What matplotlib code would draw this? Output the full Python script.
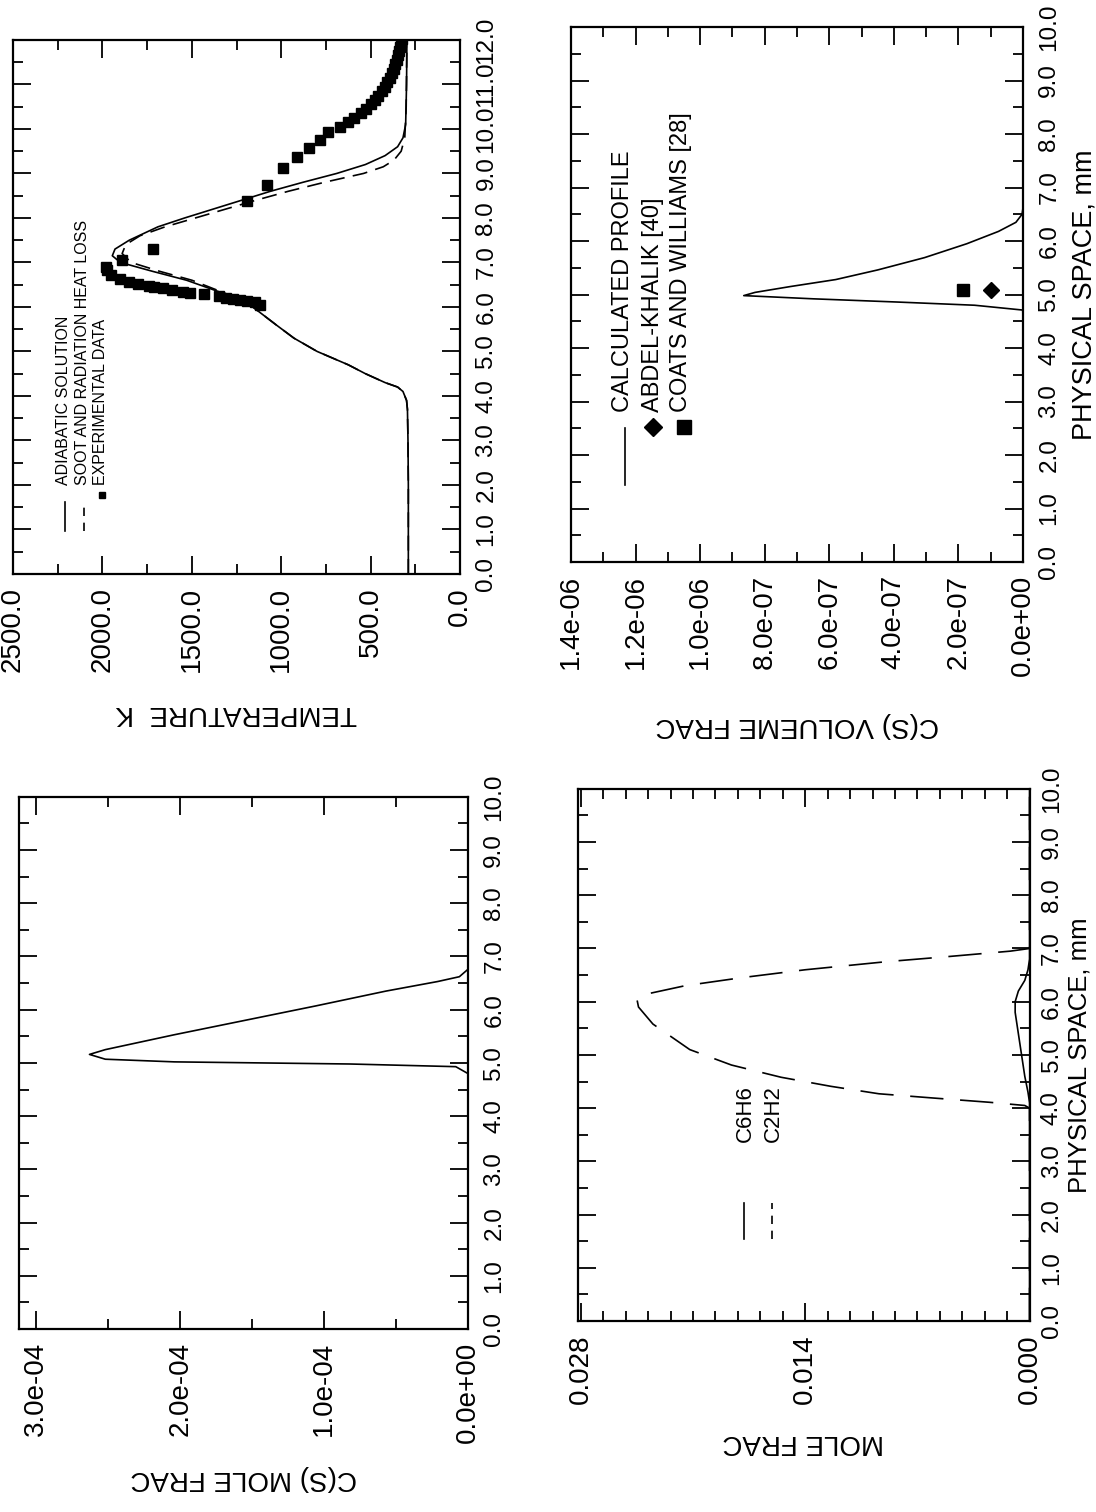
import matplotlib
matplotlib.use("Agg")
import matplotlib.pyplot as plt
from matplotlib.ticker import MultipleLocator, FormatStrFormatter

plt.rcParams['font.family'] = ['Liberation Sans', 'DejaVu Sans']

# ---- data (physical space in mm) ----
# temperature panel
adiabatic_x = [0.0, 1.0, 2.0, 3.0, 3.7, 3.9, 4.1, 4.2, 4.3, 4.5, 4.7, 5.0, 5.3, 5.6, 6.0, 6.3,
               6.6, 6.8, 7.0, 7.15, 7.3, 7.5, 7.8, 8.0, 8.2, 8.4, 8.6, 8.8, 9.0, 9.2, 9.4,
               9.6, 9.8, 10.1, 11.0, 12.0]
adiabatic_T = [290, 290, 290, 292, 295, 300, 320, 350, 420, 530, 626, 800, 930, 1030, 1160, 1320,
               1530, 1720, 1900, 1945, 1930, 1850, 1690, 1540, 1380, 1220, 1060, 880, 690, 530, 420,
               350, 320, 305, 300, 298]
soot_x = [0.0, 1.0, 2.0, 3.0, 3.7, 3.9, 4.1, 4.2, 4.3, 4.5, 4.7, 5.0, 5.3, 5.6, 6.0, 6.3,
          6.6, 6.8, 7.0, 7.2, 7.4, 7.6, 7.8, 8.0, 8.2, 8.4, 8.6, 8.8, 9.0, 9.15, 9.3, 9.5,
          9.8, 10.5, 12.0]
soot_T = [290, 290, 290, 292, 295, 300, 320, 350, 420, 530, 626, 800, 930, 1030, 1160, 1310,
          1500, 1680, 1840, 1890, 1870, 1790, 1650, 1480, 1310, 1140, 960, 760, 540, 430, 370, 330,
          310, 302, 298]
exp_x = [6.05, 6.10, 6.13, 6.16, 6.18, 6.21, 6.24, 6.28, 6.32, 6.34, 6.38, 6.42, 6.45, 6.48,
         6.52, 6.57, 6.62, 6.72, 6.83, 6.90, 7.05, 7.30, 8.38, 8.75, 9.12, 9.37, 9.57, 9.76,
         9.92, 10.05, 10.15, 10.25, 10.35, 10.45, 10.55, 10.65, 10.75, 10.85, 10.95, 11.05,
         11.15, 11.25, 11.35, 11.45, 11.55, 11.65, 11.75, 11.85, 11.95, 12.03]
exp_T = [1120, 1150, 1190, 1230, 1270, 1310, 1350, 1430, 1510, 1550, 1610, 1660, 1710, 1740,
         1800, 1850, 1900, 1950, 1975, 1980, 1890, 1720, 1190, 1080, 990, 915, 845, 785,
         740, 670, 630, 592, 555, 528, 500, 476, 457, 438, 421, 407,
         395, 384, 372, 362, 354, 347, 341, 336, 331, 328]

# soot volume fraction panel
vol_x = [0.0, 4.6, 4.71, 4.8, 4.86, 4.92, 4.98, 5.04, 5.15, 5.28, 5.46, 5.69, 5.95, 6.18,
         6.35, 6.5, 6.62, 10.0]
vol_frac = [0.0, 0.0, 0.01e-7, 1.5e-7, 3.9e-7, 6.5e-7, 8.65e-7, 8.3e-7, 7.2e-7, 5.8e-7,
            4.5e-7, 3.05e-7, 1.74e-7, 0.76e-7, 0.22e-7, 0.03e-7, 0.0, 0.0]
abdel_x = [5.09]
abdel_vol = [1.0e-7]
coats_x = [5.09]
coats_vol = [1.85e-7]

# soot mole fraction panel
cs_x = [0.0, 4.5, 4.8, 4.93, 4.98, 5.02, 5.07, 5.16, 5.25, 5.53, 5.8, 6.07, 6.35, 6.53,
        6.62, 6.76, 10.0]
cs_mole = [0.0, 0.0, 0.0, 0.085e-4, 0.82e-4, 2.04e-4, 2.52e-4, 2.63e-4, 2.52e-4, 2.04e-4,
           1.55e-4, 1.06e-4, 0.57e-4, 0.21e-4, 0.06e-4, 0.0, 0.0]

# C6H6 / C2H2 panel
c2h2_x = [0.0, 4.0, 4.05, 4.11, 4.19, 4.27, 4.41, 4.58, 4.81, 5.1, 5.58, 5.9, 6.05, 6.15,
          6.3, 6.45, 6.6, 6.75, 6.85, 6.95, 7.0, 10.0]
c2h2 = [0.0, 0.0, 0.0003, 0.0025, 0.006, 0.0094, 0.0124, 0.0155, 0.0186, 0.0212, 0.0235,
        0.0244, 0.0245, 0.0238, 0.0215, 0.0180, 0.0140, 0.0090, 0.0050, 0.0012, 0.0, 0.0]
c6h6_x = [0.0, 4.1, 4.3, 4.6, 5.0, 5.4, 5.8, 6.0, 6.2, 6.4, 6.6, 6.8, 10.0]
c6h6 = [0.0, 0.0, 0.0001, 0.0003, 0.0005, 0.0007, 0.0009, 0.0009, 0.0007, 0.0003, 0.0001,
        0.0, 0.0]


def setup_panel(ax, qmax, qmajor, qminor, qfmt, smax, qlabel, qlabel_y,
                slabel=None, slabel_x=1.13, spad=11, slabel_size=19.5):
    # panels are drawn turned by 90 degrees: quantity runs right-to-left,
    # physical space runs bottom-to-top
    ax.set_xlim(qmax, 0)
    ax.set_ylim(0, smax)
    ax.xaxis.set_major_locator(MultipleLocator(qmajor))
    ax.xaxis.set_minor_locator(MultipleLocator(qminor))
    ax.xaxis.set_major_formatter(FormatStrFormatter(qfmt))
    ax.yaxis.set_major_locator(MultipleLocator(1.0))
    ax.yaxis.set_minor_locator(MultipleLocator(0.5))
    ax.yaxis.set_major_formatter(FormatStrFormatter('%.1f'))
    ax.tick_params(which='both', direction='in', top=True, bottom=True, left=True, right=True,
                   labelleft=False, labelright=True, width=1.3)
    ax.tick_params(which='major', length=13)
    ax.tick_params(which='minor', length=7)
    ax.tick_params(axis='x', labelrotation=90, pad=9.5, labelsize=20)
    ax.tick_params(axis='y', labelrotation=90, pad=spad, labelsize=17.5)
    for lab in ax.get_yticklabels():
        lab.set_va('center')
    for sp in ax.spines.values():
        sp.set_linewidth(1.6)
    ax.set_xlabel(qlabel, rotation=180, fontsize=20)
    ax.xaxis.label.set_va('center')
    ax.xaxis.set_label_coords(0.5, qlabel_y)
    if slabel:
        ax.set_ylabel(slabel, rotation=90, fontsize=slabel_size)
        ax.yaxis.set_label_position('right')
        ax.yaxis.label.set_va('center')
        ax.yaxis.set_label_coords(slabel_x, 0.5)


fig = plt.figure(figsize=(10.96, 15.12), dpi=100)

# ---- temperature ----
ax1 = fig.add_axes([0.0119, 0.6204, 0.408, 0.3532])
ax1.plot(adiabatic_T, adiabatic_x, 'k-', lw=1.2)
ax1.plot(soot_T, soot_x, 'k-', lw=1.2, dashes=(9, 5))
ax1.plot(exp_T, exp_x, 'ks', ms=6.5)
setup_panel(ax1, 2500, 500, 250, '%.1f', 12, 'TEMPERATURE  K', -0.26)
ax1.plot([0.116, 0.116], [0.08, 0.135], 'k-', lw=1.2, transform=ax1.transAxes)
ax1.plot([0.159, 0.159], [0.08, 0.135], 'k-', lw=1.2, dashes=(5, 4), transform=ax1.transAxes)
ax1.plot([0.199], [0.148], 'ks', ms=4.5, transform=ax1.transAxes)
for xt, t in [(0.112, 'ADIABATIC SOLUTION'), (0.156, 'SOOT AND RADIATION HEAT LOSS'),
              (0.196, 'EXPERIMENTAL DATA')]:
    ax1.text(xt, 0.167, t, rotation=90, fontsize=11.5, ha='center', va='bottom',
             transform=ax1.transAxes)

# ---- soot volume fraction ----
ax2 = fig.add_axes([0.521, 0.6283, 0.4124, 0.3538])
ax2.plot(vol_frac, vol_x, 'k-', lw=1.2)
ax2.plot(abdel_vol, abdel_x, 'kD', ms=8.5)
ax2.plot(coats_vol, coats_x, 'ks', ms=8)
setup_panel(ax2, 1.4e-6, 2e-7, 1e-7, '%.1e', 10, 'C(S) VOLUEME FRAC', -0.305,
            'PHYSICAL SPACE, mm', 1.137)
ax2.plot([0.119, 0.119], [0.144, 0.25], 'k-', lw=1.2, transform=ax2.transAxes)
ax2.plot([0.181], [0.252], 'kD', ms=9, transform=ax2.transAxes)
ax2.plot([0.25], [0.252], 'ks', ms=9.5, transform=ax2.transAxes)
for xt, t in [(0.115, 'CALCULATED PROFILE'), (0.181, 'ABDEL-KHALIK [40]'),
              (0.243, 'COATS AND WILLIAMS [28]')]:
    ax2.text(xt, 0.28, t, rotation=90, fontsize=17, ha='center', va='bottom',
             transform=ax2.transAxes)

# ---- soot mole fraction ----
ax3 = fig.add_axes([0.0173, 0.121, 0.4097, 0.352])
ax3.plot(cs_mole, cs_x, 'k-', lw=1.2)
setup_panel(ax3, 3.12e-4, 1e-4, 0.5e-4, '%.1e', 10, 'C(S) MOLE FRAC', -0.28)

# ---- C6H6 / C2H2 ----
ax4 = fig.add_axes([0.527, 0.1263, 0.4124, 0.352])
ax4.plot(c6h6, c6h6_x, 'k-', lw=1.2)
ax4.plot(c2h2, c2h2_x, 'k-', lw=1.2, dashes=(20, 10))
setup_panel(ax4, 0.0282, 0.014, 0.0014, '%.3f', 10, 'MOLE FRAC', -0.227,
            'PHYSICAL SPACE, mm', 1.111, spad=8, slabel_size=18.5)
ax4.plot([0.368, 0.368], [0.154, 0.222], 'k-', lw=1.2, transform=ax4.transAxes)
ax4.plot([0.43, 0.43], [0.154, 0.222], 'k-', lw=1.2, dashes=(5, 4), transform=ax4.transAxes)
for xt, t in [(0.372, 'C6H6'), (0.434, 'C2H2')]:
    ax4.text(xt, 0.336, t, rotation=90, fontsize=16, ha='center', va='bottom',
             transform=ax4.transAxes)

fig.savefig('out.png', dpi=100)
